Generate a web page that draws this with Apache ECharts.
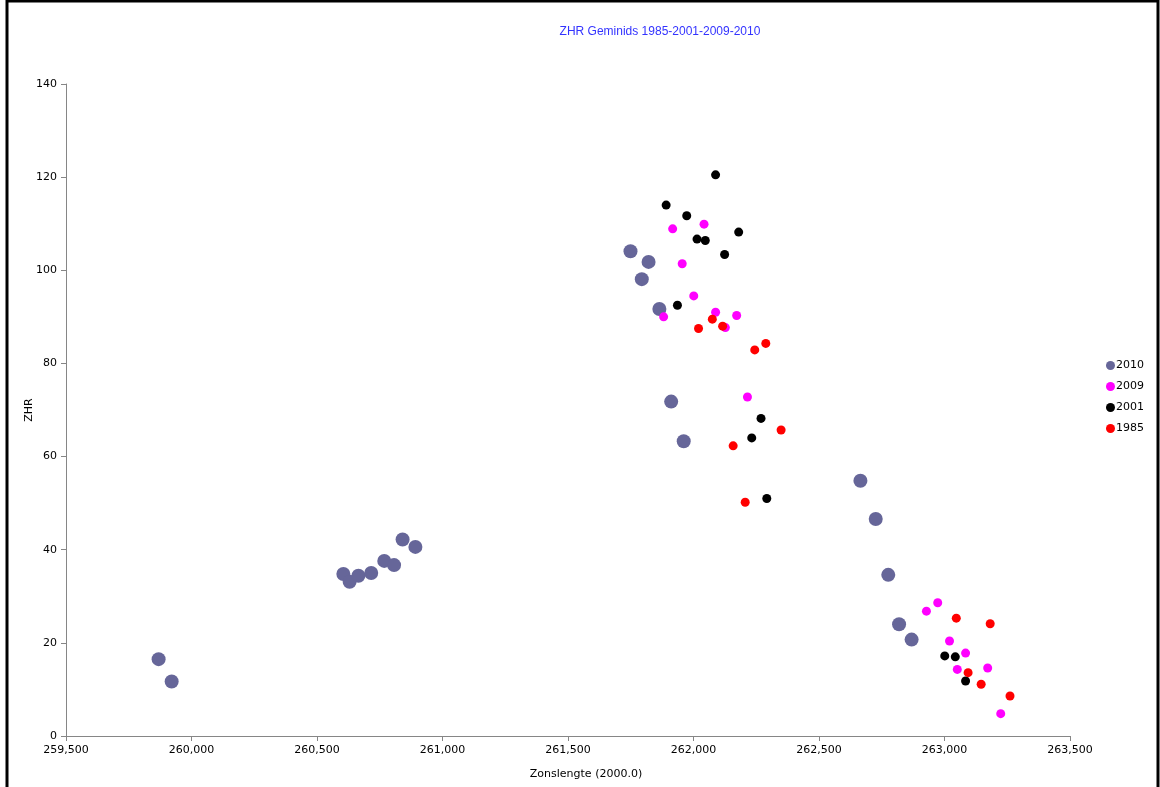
<!DOCTYPE html>
<html>
<head>
<meta charset="utf-8">
<title>ZHR Geminids</title>
<script src="https://cdn.jsdelivr.net/npm/echarts@6/dist/echarts.min.js"></script>
<style>
  html, body { margin: 0; padding: 0; background: #fff; }
  #chart { width: 1160px; height: 787px; }
</style>
</head>
<body>
<div id="chart"></div>
<script>
// Solar longitude (J2000.0, x1000) and ZHR per observing year
const seriesNames = ['2010', '2009', '2001', '1985'];

const lon2010 = [259869, 259921, 260605, 260630, 260665, 260716, 260768, 260807, 260841, 260892,
                 261749, 261821, 261794, 261864, 261911, 261961, 262665, 262726, 262776, 262819, 262869];
const zhr2010 = [16.5, 11.7, 34.8, 33.1, 34.4, 35.0, 37.6, 36.7, 42.2, 40.6,
                 104.1, 101.8, 98.1, 91.7, 71.8, 63.3, 54.8, 46.6, 34.6, 24.0, 20.7];

const lon2009 = [261917, 262042, 261955, 262001, 261881, 262088, 262172, 262127, 262215,
                 262973, 262928, 263020, 263084, 263051, 263172, 263224];
const zhr2009 = [108.9, 109.9, 101.4, 94.5, 90.0, 91.0, 90.3, 87.7, 72.8,
                 28.6, 26.8, 20.4, 17.8, 14.3, 14.6, 4.8];

const lon2001 = [262088, 261891, 261973, 262180, 262014, 262047, 262124, 261936, 262269, 262232, 262292,
                 263001, 263043, 263084];
const zhr2001 = [120.5, 114.0, 111.7, 108.2, 106.7, 106.4, 103.4, 92.5, 68.2, 64.0, 51.0,
                 17.2, 17.0, 11.8];

const lon1985 = [262075, 262116, 262020, 262288, 262244, 262349, 262158, 262206,
                 263047, 263182, 263094, 263146, 263261];
const zhr1985 = [89.5, 88.0, 87.5, 84.3, 82.9, 65.7, 62.3, 50.2,
                 25.3, 24.1, 13.6, 11.1, 8.6];

const pairs = (xs, ys) => xs.map((x, i) => [x, ys[i]]);

const colors = { '2010': '#666699', '2009': '#ff00ff', '2001': '#000000', '1985': '#ff0000' };
const sizes = { '2010': 14, '2009': 9, '2001': 9, '1985': 9 };
const dataByYear = {
  '2010': pairs(lon2010, zhr2010),
  '2009': pairs(lon2009, zhr2009),
  '2001': pairs(lon2001, zhr2001),
  '1985': pairs(lon1985, zhr1985)
};

const font = 'Verdana, "DejaVu Sans", sans-serif';
const chart = echarts.init(document.getElementById('chart'));

chart.setOption({
  animation: false,
  backgroundColor: '#ffffff',
  title: {
    text: 'ZHR Geminids 1985-2001-2009-2010',
    left: 655, top: 21, textAlign: 'center',
    textStyle: { color: '#3333ff', fontSize: 12, fontWeight: 'normal', fontFamily: '"Liberation Sans", Arial, sans-serif' }
  },
  legend: {
    orient: 'vertical',
    left: 1101, top: 354,
    itemWidth: 9, itemHeight: 9, itemGap: 8,
    icon: 'circle',
    data: seriesNames,
    textStyle: { color: '#000', fontSize: 11, fontFamily: font, padding: [0, 0, 0, -4], lineHeight: 13 }
  },
  grid: { left: 66, right: 90, top: 84, bottom: 51 },
  xAxis: {
    type: 'value',
    min: 259500, max: 263500, interval: 500,
    name: 'Zonslengte (2000.0)',
    nameLocation: 'middle', nameGap: 33, nameMoveOverlap: false,
    nameTextStyle: { color: '#000', fontSize: 11, fontFamily: font, padding: [0, 0, 0, 36] },
    axisLine: { lineStyle: { color: '#868686', width: 1 } },
    axisTick: { show: true, length: 5, lineStyle: { color: '#868686' } },
    splitLine: { show: false },
    axisLabel: {
      color: '#000', fontSize: 11, fontFamily: font, margin: 9,
      formatter: v => v.toLocaleString('en-US')
    }
  },
  yAxis: {
    type: 'value',
    min: 0, max: 140, interval: 20,
    name: 'ZHR',
    nameLocation: 'middle', nameGap: 31, nameRotate: 90, nameMoveOverlap: false,
    nameTextStyle: { color: '#000', fontSize: 11, fontFamily: font },
    axisLine: { show: true, lineStyle: { color: '#868686', width: 1 } },
    axisTick: { show: true, length: 5, lineStyle: { color: '#868686' } },
    splitLine: { show: false },
    axisLabel: { color: '#000', fontSize: 11, fontFamily: font, margin: 9 }
  },
  series: seriesNames.map(name => ({
    name,
    type: 'scatter',
    data: dataByYear[name],
    symbol: 'circle',
    symbolSize: sizes[name],
    itemStyle: { color: colors[name], opacity: 1 },
    z: name === '2010' ? 1 : 2
  })),
  graphic: [{
    type: 'rect',
    shape: { x: 7, y: 1, width: 1151, height: 800 },
    style: { fill: 'none', stroke: '#000', lineWidth: 3 },
    silent: true
  }]
});
</script>
</body>
</html>
